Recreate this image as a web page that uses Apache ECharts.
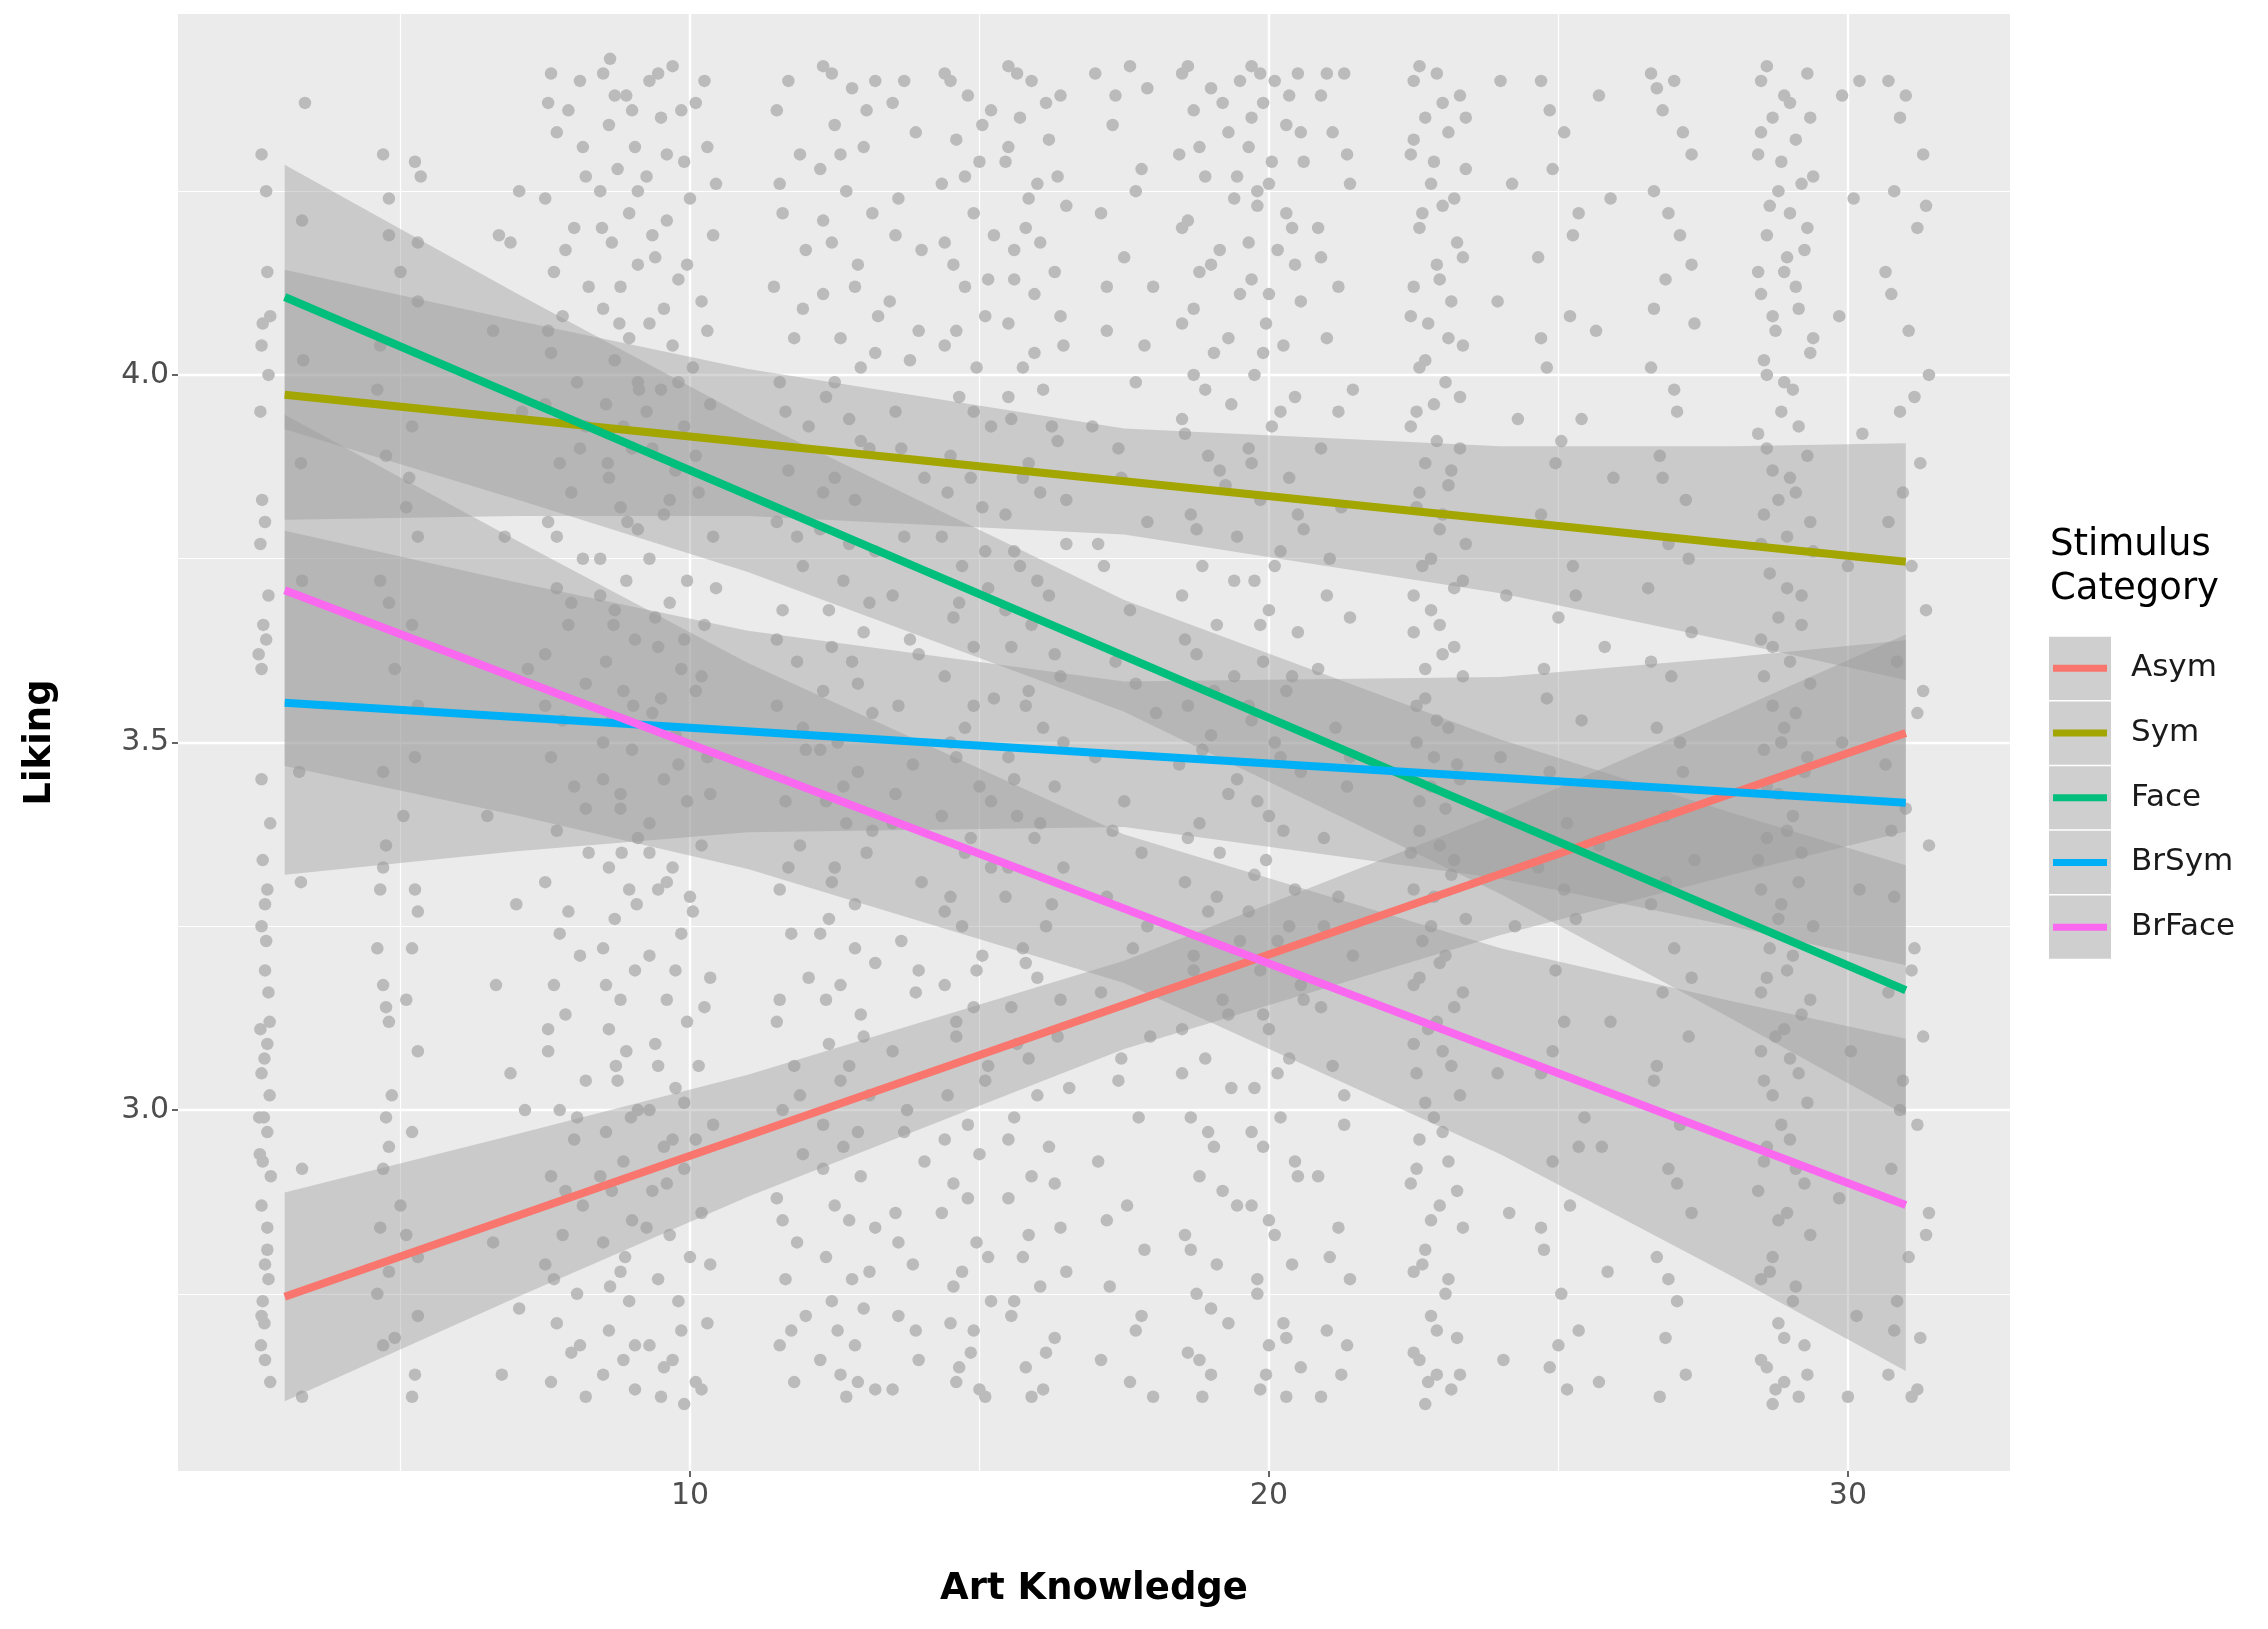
<!DOCTYPE html>
<html>
<head>
<meta charset="utf-8">
<script src="https://cdn.jsdelivr.net/npm/echarts@6/dist/echarts.min.js"></script>
<style>
html,body{margin:0;padding:0;background:#fff;}
#chart{width:2268px;height:1629px;}
</style>
</head>
<body>
<div id="chart"></div>
<script>
// ---------- data ----------
const categories = ["Asym", "Sym", "Face", "BrSym", "BrFace"];
const colors = ["#F8766D", "#A3A500", "#00BF7D", "#00B0F6", "#F968EE"];

const xTicks = [10, 20, 30];
const yTicks = [3.0, 3.5, 4.0];
const xMinor = [5, 15, 25];
const yMinor = [2.75, 3.25, 3.75, 4.25];

// fitted line endpoints (x = 3 and x = 31)
const lineX = [3, 31];
const asymLine = [2.746, 3.513];
const symLine = [3.973, 3.746];
const faceLine = [4.106, 3.163];
const brSymLine = [3.554, 3.418];
const brFaceLine = [3.707, 2.871];

// confidence band edges read at these x positions
const bandX = [3, 7, 11, 17.5, 24, 28, 31];
const asymLo = [2.604, 2.745, 2.882, 3.083, 3.238, 3.320, 3.379];
const asymHi = [2.888, 2.967, 3.048, 3.203, 3.404, 3.542, 3.647];
const symLo = [3.803, 3.808, 3.808, 3.783, 3.703, 3.637, 3.585];
const symHi = [4.143, 4.074, 4.008, 3.927, 3.903, 3.903, 3.907];
const faceLo = [3.926, 3.831, 3.732, 3.542, 3.294, 3.124, 2.993];
const faceHi = [4.286, 4.111, 3.942, 3.694, 3.504, 3.404, 3.333];
const brSymLo = [3.320, 3.352, 3.378, 3.385, 3.315, 3.250, 3.197];
const brSymHi = [3.788, 3.718, 3.652, 3.583, 3.589, 3.616, 3.639];
const brFaceLo = [3.468, 3.401, 3.328, 3.173, 2.940, 2.774, 2.645];
const brFaceHi = [3.946, 3.775, 3.608, 3.375, 3.220, 3.148, 3.097];

// jittered observations [art knowledge, liking]
const pointsA = [
[2.6,4.30],[3.35,4.37],[2.7,4.14],[2.62,4.07],[2.75,4.08],[2.6,4.04],[2.72,4.0],[3.3,4.21],[3.32,4.02],[3.28,3.88],[2.61,3.83],[2.66,3.80],[2.58,3.77],[3.3,3.72],[2.63,3.66],[2.68,3.64],[2.55,3.62],[2.6,3.60],[3.25,3.46],[2.75,3.39],[2.62,3.34],[2.7,3.30],[3.28,3.31],[2.66,3.28],[2.6,3.25],[2.68,3.23],[2.72,3.16],[2.58,3.11],[2.7,3.09],[2.65,3.07],[2.6,3.05],[2.74,3.02],[2.64,2.99],[2.7,2.97],[2.57,2.94],[2.62,2.93],[2.76,2.91],[3.3,2.92],[2.6,2.87],[2.7,2.81],[2.66,2.79],[2.72,2.77],[2.62,2.74],[2.65,2.71],[2.59,2.68],[2.66,2.66],[3.3,2.61],
[4.7,4.30],[5.25,4.29],[5.35,4.27],[4.8,4.19],[5.0,4.14],[5.3,4.10],[4.6,3.98],[5.2,3.93],[4.75,3.89],[5.1,3.82],[5.3,3.78],[4.65,3.72],[5.2,3.66],[4.9,3.60],[5.3,3.55],[4.7,3.46],[5.05,3.40],[4.75,3.36],[4.7,3.33],[5.25,3.30],[5.3,3.27],[4.6,3.22],[5.2,3.22],[4.7,3.17],[4.75,3.14],[4.8,3.12],[5.3,3.08],[4.85,3.02],[4.75,2.99],[5.2,2.97],[4.7,2.92],[5.0,2.87],[4.65,2.84],[5.1,2.83],[4.8,2.78],[4.6,2.75],[5.3,2.72],[4.9,2.69],[5.25,2.64],[5.2,2.61],
[6.7,4.19],[6.9,4.18],[7.05,4.25],[6.6,4.06],[7.1,3.95],[6.8,3.78],[7.2,3.60],[6.5,3.40],[7.0,3.28],[6.65,3.17],[6.9,3.05],[7.15,3.00],[6.6,2.82],[7.05,2.73],[6.75,2.64],
[7.55,4.37],[7.9,4.36],[8.1,4.40],[7.7,4.33],[8.2,4.27],[7.5,4.24],[8.0,4.20],[7.65,4.14],[8.25,4.12],[7.8,4.08],[7.6,4.03],[8.05,3.99],[7.5,3.96],[8.2,3.93],[7.75,3.88],[7.95,3.84],[7.55,3.80],[8.15,3.75],[7.7,3.71],[7.9,3.66],[7.5,3.62],[8.2,3.58],[7.8,3.53],[7.6,3.48],[8.0,3.44],[7.7,3.38],[8.25,3.35],[7.5,3.31],[7.9,3.27],[8.1,3.21],[7.65,3.17],[7.85,3.13],[7.55,3.08],[8.2,3.04],[7.75,3.00],[8.0,2.96],[7.6,2.91],[8.15,2.87],[7.8,2.83],[7.5,2.79],[8.05,2.75],[7.7,2.71],[7.95,2.67],[7.6,2.63],[8.2,2.61],
[8.5,4.41],[8.9,4.38],[8.6,4.34],[9.05,4.31],[8.75,4.28],[8.45,4.25],[8.95,4.22],[8.65,4.18],[9.1,4.15],[8.8,4.12],[8.5,4.09],[8.95,4.05],[8.7,4.02],[9.1,3.99],[8.55,3.96],[8.85,3.93],[9.0,3.90],[8.6,3.86],[8.8,3.82],[9.1,3.79],[8.45,3.75],[8.9,3.72],[8.7,3.68],[9.05,3.64],[8.55,3.61],[8.85,3.57],[8.65,3.53],[9.0,3.49],[8.5,3.45],[8.8,3.41],[9.1,3.37],[8.6,3.33],[8.95,3.30],[8.7,3.26],[8.5,3.22],[9.05,3.19],[8.8,3.15],[8.6,3.11],[8.9,3.08],[8.75,3.04],[9.1,3.00],[8.55,2.97],[8.85,2.93],[8.65,2.89],[9.0,2.85],[8.5,2.82],[8.8,2.78],[8.95,2.74],[8.6,2.70],[8.85,2.66],[9.05,2.62],
[9.3,4.40],[9.7,4.42],[10.1,4.37],[9.5,4.35],[10.3,4.31],[9.9,4.29],[9.25,4.27],[10.0,4.24],[9.6,4.21],[10.4,4.19],[9.4,4.16],[9.8,4.13],[10.2,4.10],[9.3,4.07],[9.7,4.04],[10.05,4.01],[9.5,3.98],[10.35,3.96],[9.9,3.93],[9.35,3.90],[9.75,3.87],[10.15,3.84],[9.55,3.81],[10.4,3.78],[9.3,3.75],[9.95,3.72],[9.65,3.69],[10.25,3.66],[9.45,3.63],[9.85,3.60],[10.1,3.57],[9.35,3.54],[9.75,3.51],[10.3,3.48],[9.55,3.45],[9.95,3.42],[9.3,3.39],[10.2,3.36],[9.7,3.33],[9.45,3.30],[10.05,3.27],[9.85,3.24],[9.3,3.21],[10.35,3.18],[9.6,3.15],[9.95,3.12],[9.4,3.09],[10.15,3.06],[9.75,3.03],[9.3,3.00],[10.4,2.98],[9.55,2.95],[9.9,2.92],[9.35,2.89],[10.2,2.86],[9.65,2.83],[10.0,2.80],[9.45,2.77],[9.8,2.74],[10.3,2.71],[9.3,2.68],[9.7,2.66],[10.1,2.63],[9.5,2.61],[9.9,2.60],
[11.5,4.36],[11.9,4.30],[11.6,4.22],[12.0,4.17],[11.45,4.12],[11.8,4.05],[11.55,3.99],[12.05,3.93],[11.7,3.87],[11.5,3.80],[11.95,3.74],[11.6,3.68],[11.85,3.61],[11.5,3.55],[12.0,3.49],[11.65,3.42],[11.9,3.36],[11.55,3.30],[11.75,3.24],[12.05,3.18],[11.5,3.12],[11.8,3.06],[11.6,3.00],[11.95,2.94],[11.5,2.88],[11.85,2.82],[11.65,2.77],[12.0,2.72],[11.55,2.68],[11.8,2.63],
[12.3,4.42],[12.8,4.39],[13.2,4.40],[12.5,4.34],[13.0,4.31],[12.25,4.28],[12.7,4.25],[13.15,4.22],[12.45,4.18],[12.9,4.15],[12.3,4.11],[13.25,4.08],[12.6,4.05],[12.95,4.01],[12.35,3.97],[12.75,3.94],[13.1,3.90],[12.5,3.86],[12.85,3.83],[12.25,3.79],[13.2,3.76],[12.65,3.72],[12.4,3.68],[13.0,3.65],[12.8,3.61],[12.3,3.57],[13.15,3.54],[12.55,3.50],[12.9,3.46],[12.35,3.42],[12.7,3.39],[13.05,3.35],[12.45,3.31],[12.85,3.28],[12.25,3.24],[13.2,3.20],[12.6,3.17],[12.95,3.13],[12.4,3.09],[12.75,3.06],[13.1,3.02],[12.3,2.98],[12.65,2.95],[12.95,2.91],[12.5,2.87],[13.2,2.84],[12.35,2.80],[12.8,2.77],[13.0,2.73],[12.55,2.70],[12.25,2.66],[12.9,2.63],[12.7,2.61],
[13.5,4.37],[13.9,4.33],[13.6,4.24],[14.0,4.17],[13.45,4.10],[13.8,4.02],[13.55,3.95],[14.05,3.86],[13.7,3.78],[13.5,3.70],[13.95,3.62],[13.6,3.55],[13.85,3.47],[13.5,3.39],[14.0,3.31],[13.65,3.23],[13.9,3.16],[13.5,3.08],[13.75,3.00],[14.05,2.93],[13.55,2.86],[13.85,2.79],[13.6,2.72],[13.95,2.66],[13.5,2.62],
[14.4,4.41],[14.8,4.38],[15.2,4.36],[14.6,4.32],[15.0,4.29],[14.35,4.26],[14.9,4.22],[15.25,4.19],[14.55,4.15],[14.75,4.12],[15.1,4.08],[14.4,4.04],[14.95,4.01],[14.65,3.97],[15.2,3.93],[14.5,3.89],[14.85,3.86],[15.05,3.82],[14.35,3.78],[14.7,3.74],[15.15,3.71],[14.55,3.67],[14.9,3.63],[14.4,3.59],[15.25,3.56],[14.75,3.52],[14.6,3.48],[15.0,3.44],[14.35,3.40],[14.85,3.37],[15.2,3.33],[14.5,3.29],[14.7,3.25],[15.05,3.21],[14.4,3.17],[14.9,3.14],[14.6,3.10],[15.15,3.06],[14.45,3.02],[14.8,2.98],[15.0,2.94],[14.55,2.90],[14.35,2.86],[14.95,2.82],[14.7,2.78],[15.2,2.74],[14.5,2.71],[14.85,2.67],[14.6,2.63],[15.1,2.61],
[15.5,4.42],[15.9,4.40],[16.4,4.38],[15.7,4.35],[16.2,4.32],[15.45,4.29],[16.0,4.26],[16.5,4.23],[15.8,4.20],[15.6,4.17],[16.3,4.14],[15.95,4.11],[15.5,4.07],[16.45,4.04],[15.75,4.01],[16.1,3.98],[15.55,3.94],[16.35,3.91],[15.85,3.88],[16.05,3.84],[15.45,3.81],[16.5,3.77],[15.7,3.74],[16.2,3.70],[15.9,3.66],[15.55,3.63],[16.4,3.59],[15.8,3.55],[16.1,3.52],[15.5,3.48],[16.3,3.44],[15.65,3.40],[15.95,3.37],[16.45,3.33],[15.45,3.29],[16.15,3.25],[15.75,3.22],[16.0,3.18],[15.55,3.14],[16.35,3.10],[15.85,3.07],[16.55,3.03],[15.6,2.99],[16.2,2.95],[15.9,2.91],[15.5,2.88],[16.4,2.84],[15.75,2.80],[16.05,2.76],[15.55,2.72],[16.3,2.69],[15.8,2.65],[16.1,2.62],
[17.0,4.41],[17.6,4.42],[17.9,4.39],[17.3,4.34],[17.8,4.28],[17.1,4.22],[17.5,4.16],[18.0,4.12],[17.2,4.06],[17.7,3.99],[16.95,3.93],[17.45,3.86],[17.9,3.80],[17.15,3.74],[17.6,3.68],[17.35,3.61],[18.05,3.54],[17.0,3.48],[17.5,3.42],[17.8,3.35],[17.2,3.29],[17.65,3.22],[17.1,3.16],[17.95,3.10],[17.4,3.04],[17.75,2.99],[17.05,2.93],[17.55,2.87],[17.85,2.81],[17.25,2.76],[17.7,2.70],[17.1,2.66],[17.6,2.63],[18.0,2.61],
[18.5,4.41],[19.0,4.39],[19.5,4.40],[18.7,4.36],[19.3,4.33],[18.45,4.30],[18.9,4.27],[19.4,4.24],[18.6,4.21],[19.15,4.17],[18.8,4.14],[19.5,4.11],[18.5,4.07],[19.05,4.03],[18.7,4.00],[19.35,3.96],[18.55,3.92],[18.95,3.89],[19.25,3.85],[18.65,3.81],[19.45,3.78],[18.85,3.74],[18.5,3.70],[19.1,3.66],[18.75,3.62],[19.4,3.59],[18.6,3.55],[19.0,3.51],[18.45,3.47],[19.3,3.43],[18.8,3.39],[19.15,3.35],[18.55,3.31],[18.95,3.27],[19.5,3.23],[18.7,3.19],[19.2,3.15],[18.5,3.11],[18.9,3.07],[19.35,3.03],[18.65,2.99],[19.05,2.95],[18.8,2.91],[19.45,2.87],[18.55,2.83],[19.1,2.79],[18.75,2.75],[19.3,2.71],[18.6,2.67],[19.0,2.64],[18.85,2.61],
[19.7,4.42],[20.1,4.40],[20.5,4.41],[19.9,4.37],[20.3,4.34],[19.65,4.31],[20.6,4.29],[20.0,4.26],[19.8,4.23],[20.4,4.20],[20.15,4.17],[19.7,4.13],[20.55,4.10],[19.95,4.07],[20.25,4.04],[19.75,4.00],[20.45,3.97],[20.05,3.93],[19.65,3.90],[20.35,3.86],[19.85,3.83],[20.6,3.79],[20.2,3.76],[19.75,3.72],[20.0,3.68],[20.5,3.65],[19.9,3.61],[20.3,3.57],[19.7,3.53],[20.1,3.50],[20.55,3.46],[19.8,3.42],[20.25,3.38],[19.95,3.34],[20.45,3.30],[19.65,3.27],[20.15,3.23],[19.85,3.19],[20.6,3.15],[20.0,3.11],[20.35,3.07],[19.75,3.03],[20.2,2.99],[19.9,2.95],[20.5,2.91],[19.7,2.87],[20.1,2.83],[20.4,2.79],[19.8,2.75],[20.25,2.71],[20.0,2.68],[20.55,2.65],[19.85,2.62],[20.3,2.61],
[20.9,4.38],[21.3,4.41],[21.1,4.33],[21.4,4.26],[20.85,4.20],[21.2,4.12],[21.0,4.05],[21.45,3.98],[20.9,3.90],[21.25,3.82],[21.05,3.75],[21.4,3.67],[20.85,3.60],[21.15,3.52],[21.35,3.44],[20.95,3.37],[21.2,3.29],[21.45,3.21],[20.9,3.14],[21.1,3.06],[21.3,2.98],[20.85,2.91],[21.2,2.84],[21.4,2.77],[21.0,2.70],[21.25,2.64],[20.9,2.61],
[22.5,4.40],[22.9,4.41],[23.3,4.38],[22.7,4.35],[23.1,4.33],[22.45,4.30],[23.4,4.28],[22.8,4.26],[23.0,4.23],[22.6,4.20],[23.25,4.18],[22.9,4.15],[22.5,4.12],[23.15,4.10],[22.75,4.07],[23.35,4.04],[22.6,4.01],[23.05,3.99],[22.85,3.96],[22.45,3.93],[23.3,3.90],[22.7,3.88],[23.1,3.85],[22.55,3.82],[22.95,3.79],[23.4,3.77],[22.65,3.74],[23.2,3.71],[22.8,3.68],[22.5,3.65],[23.0,3.62],[23.35,3.59],[22.7,3.56],[22.9,3.53],[22.55,3.50],[23.25,3.47],[22.8,3.44],[23.05,3.41],[22.6,3.38],[22.45,3.35],[23.15,3.32],[22.85,3.29],[23.4,3.26],[22.65,3.23],[22.95,3.20],[22.5,3.17],[23.2,3.14],[22.75,3.11],[23.0,3.08],[22.55,3.05],[23.3,3.02],[22.85,2.99],[22.6,2.96],[23.1,2.93],[22.45,2.90],[22.95,2.87],[23.35,2.84],[22.7,2.81],[22.5,2.78],[23.05,2.75],[22.8,2.72],[23.25,2.69],[22.6,2.66],[22.9,2.64],[23.15,2.62],[22.7,2.60],
[24.0,4.40],[24.2,4.26],[23.95,4.10],[24.3,3.94],[24.1,3.70],[24.0,3.48],[24.25,3.25],[23.95,3.05],[24.15,2.86],[24.05,2.66],
[24.7,4.40],[25.1,4.33],[24.9,4.28],[25.35,4.22],[24.65,4.16],[25.2,4.08],[24.8,4.01],[25.4,3.94],[24.95,3.88],[24.7,3.81],[25.25,3.74],[25.0,3.67],[24.75,3.60],[25.4,3.53],[24.85,3.46],[25.15,3.39],[24.65,3.33],[25.3,3.26],[24.95,3.19],[25.1,3.12],[24.7,3.05],[25.45,2.99],[24.9,2.93],[25.2,2.87],[24.75,2.81],[25.05,2.75],[25.35,2.70],[24.85,2.65],[25.15,2.62],
[25.7,4.38],[25.9,4.24],[25.65,4.06],[25.95,3.86],[25.8,3.63],[25.7,3.36],[25.9,3.12],[25.75,2.95],[25.85,2.78],[25.7,2.63],
[26.6,4.41],[27.0,4.40],[26.8,4.36],[27.3,4.30],[26.65,4.25],[27.1,4.19],[26.85,4.13],[27.35,4.07],[26.6,4.01],[27.05,3.95],[26.75,3.89],[27.2,3.83],[26.9,3.77],[26.55,3.71],[27.3,3.65],[26.95,3.59],[26.7,3.52],[27.15,3.46],[26.85,3.40],[27.35,3.34],[26.6,3.28],[27.0,3.22],[26.8,3.16],[27.25,3.10],[26.65,3.04],[27.1,2.98],[26.9,2.92],[27.3,2.86],[26.7,2.80],[27.05,2.74],[26.85,2.69],[27.2,2.64],[26.75,2.61],
[28.5,4.40],[28.9,4.38],[29.3,4.41],[28.7,4.35],[29.1,4.32],[28.45,4.30],[29.4,4.27],[28.8,4.25],[29.0,4.22],[28.6,4.19],[29.25,4.17],[28.9,4.14],[28.5,4.11],[29.15,4.09],[28.75,4.06],[29.35,4.03],[28.6,4.00],[29.05,3.98],[28.85,3.95],[28.45,3.92],[29.3,3.89],[28.7,3.87],[29.1,3.84],[28.55,3.81],[28.95,3.78],[29.4,3.76],[28.65,3.73],[29.2,3.70],[28.8,3.67],[28.5,3.64],[29.0,3.61],[29.35,3.58],[28.7,3.55],[28.9,3.52],[28.55,3.49],[29.25,3.46],[28.8,3.43],[29.05,3.40],[28.6,3.37],[28.45,3.34],[29.15,3.31],[28.85,3.28],[29.4,3.25],[28.65,3.22],[28.95,3.19],[28.5,3.16],[29.2,3.13],[28.75,3.10],[29.0,3.07],[28.55,3.04],[29.3,3.01],[28.85,2.98],[28.6,2.95],[29.1,2.92],[28.45,2.89],[28.95,2.86],[29.35,2.83],[28.7,2.80],[28.5,2.77],[29.05,2.74],[28.8,2.71],[29.25,2.68],[28.6,2.65],[28.9,2.63],[29.15,2.61],[28.7,2.60],
[29.9,4.38],[30.2,4.40],[30.1,4.24],[29.85,4.08],[30.25,3.92],[30.0,3.74],[29.9,3.50],[30.2,3.30],[30.05,3.08],[29.85,2.88],[30.15,2.72],[30.0,2.61],
[30.7,4.40],[31.0,4.38],[31.3,4.30],[30.8,4.25],[31.2,4.20],[30.65,4.14],[31.05,4.06],[31.4,4.00],[30.9,3.95],[31.25,3.88],[30.7,3.80],[31.1,3.74],[31.35,3.68],[30.85,3.61],[31.2,3.54],[30.65,3.47],[31.0,3.41],[31.4,3.36],[30.8,3.29],[31.15,3.22],[30.7,3.16],[31.3,3.10],[30.95,3.04],[31.2,2.98],[30.75,2.92],[31.4,2.86],[31.05,2.80],[30.85,2.74],[31.25,2.69],[30.7,2.64],[31.1,2.61]
];

const pointsB = [
[2.68,4.25],[2.58,3.95],[2.72,3.70],[2.6,3.45],[2.66,3.19],[2.74,3.12],[2.56,2.99],[2.7,2.84],[2.6,2.72],[2.75,2.63],
[4.8,4.24],[5.3,4.18],[4.65,4.04],[5.15,3.86],[4.8,3.69],[5.25,3.48],[4.65,3.30],[5.1,3.15],[4.8,2.95],[5.3,2.80],[4.7,2.68],
[7.6,4.41],[8.15,4.31],[7.85,4.17],[7.55,4.06],[8.1,3.90],[7.7,3.78],[7.95,3.69],[7.5,3.55],[8.2,3.41],[7.75,3.24],[7.55,3.11],[8.05,2.99],[7.85,2.89],[7.65,2.77],[8.1,2.68],
[8.62,4.43],[9.0,4.36],[8.48,4.20],[8.78,4.07],[9.12,3.98],[8.58,3.88],[8.92,3.80],[8.68,3.66],[9.02,3.55],[8.5,3.50],[8.8,3.43],[9.08,3.28],[8.55,3.17],[8.72,3.06],[8.98,2.99],[8.45,2.91],[8.88,2.80],[8.62,2.76],[9.05,2.68],[8.5,2.64],[8.82,3.35],[8.6,3.92],[9.1,4.25],[8.7,4.38],[8.45,3.70],
[9.45,4.41],[9.85,4.36],[10.25,4.40],[9.6,4.30],[10.45,4.26],[9.35,4.19],[9.95,4.15],[9.55,4.09],[10.3,4.06],[9.8,3.99],[9.25,3.95],[10.1,3.89],[9.65,3.83],[10.45,3.71],[9.4,3.67],[9.9,3.64],[10.2,3.59],[9.5,3.56],[9.8,3.47],[10.35,3.43],[9.3,3.35],[9.6,3.31],[10.0,3.29],[9.75,3.19],[10.25,3.14],[9.45,3.06],[9.9,3.01],[10.1,2.96],[9.6,2.90],[9.25,2.84],[10.35,2.79],[9.85,2.70],[9.55,2.65],[10.2,2.62],[9.7,2.96],
[11.7,4.40],[11.55,4.26],[11.95,4.09],[11.65,3.95],[11.85,3.78],[11.5,3.64],[11.95,3.52],[11.7,3.33],[11.55,3.15],[11.9,3.02],[11.6,2.85],[11.75,2.70],
[12.45,4.41],[13.05,4.36],[12.6,4.30],[12.3,4.21],[12.85,4.12],[13.2,4.03],[12.5,3.99],[12.95,3.91],[12.3,3.84],[12.75,3.77],[13.1,3.69],[12.45,3.63],[12.9,3.58],[12.25,3.49],[12.65,3.44],[13.15,3.38],[12.5,3.33],[12.85,3.22],[12.35,3.15],[13.0,3.10],[12.6,3.04],[12.9,2.97],[12.3,2.92],[12.75,2.85],[13.1,2.78],[12.45,2.74],[12.85,2.68],[12.6,2.64],[13.2,2.62],[12.4,3.26],
[13.7,4.40],[13.55,4.19],[13.95,4.06],[13.65,3.90],[13.8,3.64],[13.55,3.43],[13.95,3.19],[13.7,2.97],[13.6,2.82],[13.9,2.70],
[14.5,4.40],[15.05,4.34],[14.75,4.27],[14.4,4.18],[15.15,4.13],[14.6,4.06],[14.9,3.95],[14.45,3.84],[15.1,3.76],[14.65,3.69],[14.9,3.55],[14.5,3.50],[15.2,3.42],[14.75,3.35],[14.4,3.27],[14.95,3.19],[14.6,3.12],[15.1,3.04],[14.4,2.96],[14.8,2.88],[15.15,2.80],[14.55,2.76],[14.9,2.70],[14.65,2.65],[15.0,2.62],
[15.65,4.41],[16.15,4.37],[15.5,4.31],[16.35,4.27],[15.85,4.24],[16.05,4.18],[15.6,4.13],[16.4,4.08],[15.95,4.03],[15.5,3.97],[16.25,3.93],[15.75,3.86],[16.5,3.83],[15.6,3.76],[16.0,3.72],[15.45,3.68],[16.3,3.62],[15.85,3.57],[16.45,3.50],[15.6,3.45],[16.05,3.39],[15.5,3.33],[16.25,3.28],[15.8,3.20],[16.4,3.15],[15.65,3.09],[16.0,3.02],[15.5,2.96],[16.3,2.90],[15.85,2.83],[16.5,2.78],[15.6,2.74],[16.15,2.67],[15.9,2.61],
[17.35,4.38],[17.7,4.25],[17.2,4.12],[17.85,4.04],[17.4,3.90],[17.05,3.77],[17.7,3.58],[17.3,3.38],[17.9,3.25],[17.45,3.07],[17.2,2.85],[17.8,2.72],
[18.6,4.42],[19.2,4.37],[18.8,4.31],[19.45,4.27],[18.5,4.20],[19.0,4.15],[18.7,4.09],[19.3,4.05],[18.9,3.98],[18.5,3.94],[19.15,3.87],[18.75,3.79],[19.4,3.72],[18.55,3.64],[19.05,3.57],[18.85,3.49],[19.45,3.45],[18.6,3.37],[19.1,3.29],[18.7,3.21],[19.3,3.13],[18.5,3.05],[18.95,2.97],[19.2,2.89],[18.65,2.81],[19.0,2.73],[18.8,2.66],
[19.85,4.41],[20.35,4.38],[19.7,4.35],[20.55,4.33],[20.05,4.29],[19.8,4.25],[20.3,4.22],[19.65,4.18],[20.45,4.15],[20.0,4.11],[19.9,4.03],[20.2,3.95],[19.7,3.88],[20.5,3.81],[20.1,3.74],[19.85,3.66],[20.4,3.59],[19.65,3.55],[20.2,3.48],[20.0,3.40],[19.75,3.32],[20.35,3.25],[20.55,3.17],[19.9,3.13],[20.15,3.05],[19.7,2.97],[20.45,2.93],[20.0,2.85],[19.8,2.77],[20.3,2.69],[19.95,2.64],
[21.0,4.41],[21.35,4.30],[20.9,4.16],[21.2,3.95],[21.0,3.70],[21.4,3.48],[20.95,3.25],[21.3,3.02],[21.05,2.80],[21.35,2.68],
[22.6,4.42],[23.0,4.37],[23.4,4.35],[22.5,4.32],[22.85,4.29],[23.2,4.24],[22.65,4.22],[23.35,4.16],[22.95,4.13],[22.45,4.08],[23.1,4.05],[22.7,4.02],[23.3,3.97],[22.55,3.95],[22.9,3.91],[23.15,3.87],[22.6,3.84],[23.0,3.81],[22.8,3.75],[23.35,3.72],[22.5,3.70],[22.95,3.66],[23.2,3.63],[22.7,3.60],[22.55,3.55],[23.1,3.52],[22.85,3.48],[23.3,3.45],[22.6,3.42],[22.95,3.36],[23.2,3.34],[22.5,3.30],[22.8,3.25],[23.05,3.21],[22.6,3.18],[23.35,3.16],[22.9,3.12],[22.5,3.09],[23.15,3.06],[22.7,3.01],[23.0,2.97],[22.55,2.92],[23.25,2.89],[22.8,2.85],[22.65,2.79],[23.1,2.77],[22.9,2.70],[22.5,2.67],[23.3,2.64],[22.75,2.63],
[24.85,4.36],[25.25,4.19],[24.7,4.05],[25.05,3.91],[25.3,3.70],[24.8,3.56],[25.1,3.30],[24.9,3.08],[25.35,2.95],[24.7,2.84],[25.0,2.68],
[26.7,4.39],[27.15,4.33],[26.9,4.22],[27.3,4.15],[26.65,4.09],[27.0,3.98],[26.8,3.86],[27.25,3.75],[26.6,3.61],[27.1,3.50],[26.85,3.31],[27.3,3.18],[26.7,3.06],[27.05,2.90],[26.9,2.77],
[28.6,4.42],[29.0,4.37],[29.35,4.35],[28.5,4.33],[28.85,4.29],[29.2,4.26],[28.65,4.23],[29.3,4.20],[28.95,4.16],[28.45,4.14],[29.1,4.12],[28.7,4.08],[29.4,4.05],[28.55,4.02],[28.9,3.99],[29.15,3.93],[28.6,3.90],[29.0,3.86],[28.8,3.83],[29.35,3.80],[28.5,3.77],[28.95,3.71],[29.2,3.66],[28.7,3.63],[28.55,3.59],[29.1,3.54],[28.85,3.50],[29.3,3.48],[28.6,3.44],[28.95,3.38],[29.2,3.35],[28.5,3.30],[28.8,3.26],[29.05,3.21],[28.6,3.18],[29.35,3.15],[28.9,3.11],[28.5,3.08],[29.15,3.05],[28.7,3.02],[29.0,2.96],[28.55,2.93],[29.25,2.90],[28.8,2.85],[28.65,2.78],[29.1,2.76],[28.9,2.69],[28.5,2.66],[29.3,2.64],[28.75,2.62],
[30.9,4.35],[31.35,4.23],[30.75,4.11],[31.15,3.97],[30.95,3.84],[31.3,3.57],[30.75,3.38],[31.1,3.19],[30.9,3.00],[31.35,2.83],[30.8,2.70],[31.2,2.62]
];

// ---------- chart ----------
const FONT = "DejaVu Sans";
const lines = [asymLine, symLine, faceLine, brSymLine, brFaceLine];
const bandsLo = [asymLo, symLo, faceLo, brSymLo, brFaceLo];
const bandsHi = [asymHi, symHi, faceHi, brSymHi, brFaceHi];

function bandSeries(name, lo, hi) {
  return {
    type: 'custom',
    name: name + ' band',
    silent: true,
    z: 3,
    data: bandX.map((x, i) => [x, lo[i], hi[i]]),
    encode: { x: 0, y: [1, 2] },
    renderItem: function (params, api) {
      if (params.dataIndex !== 0) return null;
      const pts = [];
      for (let i = 0; i < bandX.length; i++) pts.push(api.coord([bandX[i], hi[i]]));
      for (let i = bandX.length - 1; i >= 0; i--) pts.push(api.coord([bandX[i], lo[i]]));
      return { type: 'polygon', shape: { points: pts }, style: { fill: 'rgba(153,153,153,0.4)' } };
    }
  };
}

const series = [];
// grid lines
series.push({
  type: 'scatter', name: 'grid', data: [], silent: true, z: 1,
  markLine: {
    silent: true, symbol: 'none', animation: false, z: 1,
    label: { show: false },
    emphasis: { disabled: true },
    data: [].concat(
      xMinor.map(v => ({ xAxis: v, lineStyle: { color: '#ffffff', width: 1.2, type: 'solid' } })),
      yMinor.map(v => ({ yAxis: v, lineStyle: { color: '#ffffff', width: 1.2, type: 'solid' } })),
      xTicks.map(v => ({ xAxis: v, lineStyle: { color: '#ffffff', width: 2.4, type: 'solid' } })),
      yTicks.map(v => ({ yAxis: v, lineStyle: { color: '#ffffff', width: 2.4, type: 'solid' } }))
    )
  }
});
// points
series.push({
  type: 'scatter', name: 'obs', data: pointsA.concat(pointsB), symbolSize: 12.5, silent: true, z: 2,
  large: false,
  itemStyle: { color: '#BBBBBB', opacity: 1 }
});
// bands and lines, in group order
categories.forEach((c, k) => {
  series.push(bandSeries(c, bandsLo[k], bandsHi[k]));
  series.push({
    type: 'line', name: c, z: 3, silent: true,
    data: lineX.map((x, i) => [x, lines[k][i]]),
    showSymbol: false, symbol: 'none',
    color: colors[k],
    lineStyle: { width: 8, color: colors[k], cap: 'butt' },
    itemStyle: { color: colors[k] }
  });
});

const chart = echarts.init(document.getElementById('chart'), null, { renderer: 'canvas' });
chart.setOption({
  animation: false,
  backgroundColor: '#ffffff',
  grid: {
    left: 178, top: 14, width: 1832, height: 1457,
    show: true, backgroundColor: '#EBEBEB', borderWidth: 0
  },
  xAxis: {
    type: 'value', min: 1.157, max: 32.8,
    name: 'Art Knowledge', nameLocation: 'middle', nameGap: 100,
    nameTextStyle: { fontFamily: FONT, fontSize: 37, fontWeight: 'bold', color: '#000000' },
    axisLine: { show: false },
    axisTick: { show: true, customValues: xTicks, length: 6, lineStyle: { color: '#333333', width: 1.5 } },
    axisLabel: { customValues: xTicks, margin: 10, fontFamily: FONT, fontSize: 30, color: '#4D4D4D' },
    splitLine: { show: false }, minorSplitLine: { show: false }
  },
  yAxis: {
    type: 'value', min: 2.509, max: 4.491,
    name: 'Liking', nameLocation: 'middle', nameGap: 119, nameRotate: 90,
    nameTextStyle: { fontFamily: FONT, fontSize: 37, fontWeight: 'bold', color: '#000000' },
    axisLine: { show: false },
    axisTick: { show: true, customValues: yTicks, length: 6, lineStyle: { color: '#333333', width: 1.5 } },
    axisLabel: { customValues: yTicks, margin: 9, fontFamily: FONT, fontSize: 30, color: '#4D4D4D',
      formatter: v => Number(v).toFixed(1) },
    splitLine: { show: false }, minorSplitLine: { show: false }
  },
  legend: {
    data: categories, orient: 'vertical', left: 2053, top: 636,
    itemWidth: 54, itemHeight: 7, itemGap: 0, icon: 'rect', selectedMode: false,
    padding: 0,
    textStyle: { fontFamily: FONT, fontSize: 31, color: '#1A1A1A', lineHeight: 64.7, padding: [0, 0, 0, 19] }
  },
  graphic: [
    { type: 'text', left: 2050, top: 523, z: 0,
      style: { text: 'Stimulus\nCategory', font: '37px "DejaVu Sans"', lineHeight: 44.5, fill: '#000000' } }
  ].concat(categories.map((c, i) => ({
    type: 'rect', z: 0, silent: true,
    shape: { x: 2049, y: 636 + 64.7 * i + 0.75, width: 62, height: 63.2 },
    style: { fill: '#CFCFCF' }
  }))),
  series: series
});
</script>
</body>
</html>
